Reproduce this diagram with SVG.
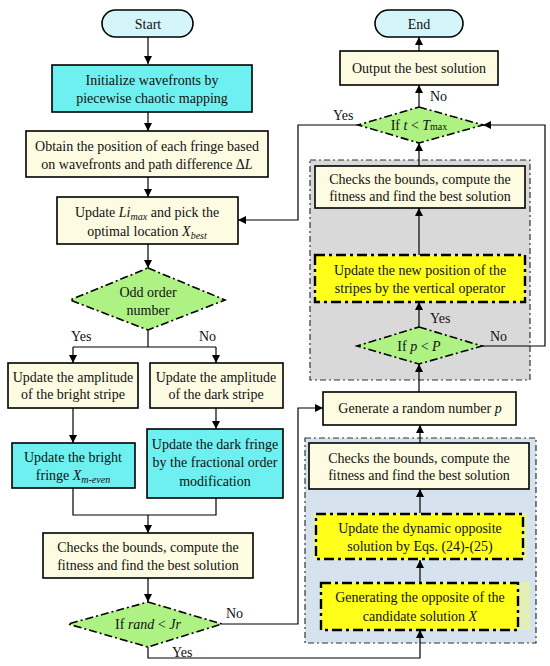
<svg xmlns="http://www.w3.org/2000/svg" width="550" height="666" viewBox="0 0 550 666">
<defs>
<marker id="ah" viewBox="0 0 10 10" refX="10" refY="5" markerWidth="8" markerHeight="8" markerUnits="userSpaceOnUse" orient="auto">
<path d="M0,0 L10,5 L0,10 z" fill="#000"/>
</marker>
<style>
text{font-size:14px;fill:#111;text-anchor:middle}
.lab{text-anchor:start}
.box{fill:#fdfbe1;stroke:#000;stroke-width:1.6}
.cyan{fill:#6ff0f0;stroke:#000;stroke-width:1.6}
.term{fill:#d4f5fa;stroke:#000;stroke-width:1.6}
.dia{fill:#aef283;stroke:#000;stroke-width:1.6;stroke-dasharray:8 3 2 3}
.yel{fill:#ffff1a;stroke:#000;stroke-width:2.4;stroke-dasharray:10 4 3 4}
.back{fill:#e3efb4;stroke:none}
.region{stroke:#333;stroke-width:1.2;stroke-dasharray:6 3 2 3}
.con{fill:none;stroke:#000;stroke-width:1.2}
.arr{marker-end:url(#ah)}
.sub{font-size:10px}
</style>
</defs>
<g font-family="'Liberation Serif', 'DejaVu Serif', serif">
<g id="regions">
<rect id="grayRegion" class="region" x="310" y="160" width="220" height="220" fill="#d9d9d9"/>
<rect id="blueRegion" class="region" x="305" y="438" width="231" height="205" fill="#d6e3ee"/>
</g>

<g id="connectors">
<path class="con arr" d="M148,37 V64"/>
<path class="con arr" d="M148,112 V131"/>
<path class="con arr" d="M148,177 V197"/>
<path class="con arr" d="M148,244 V268"/>
<path class="con" d="M148,330 V347 M73,347 H216"/>
<path class="con arr" d="M73,347 V363"/>
<path class="con arr" d="M216,347 V363"/>
<path class="con arr" d="M73,408 V443"/>
<path class="con arr" d="M216,408 V429"/>
<path class="con" d="M73,488 V515 H216 V498"/>
<path class="con arr" d="M148,515 V533"/>
<path class="con arr" d="M148,578 V602"/>
<path class="con arr" d="M222,624 H298 V408 H323"/>
<path class="con arr" d="M148,647 V658 H420 V630"/>
<path class="con arr" d="M420,583 V560"/>
<path class="con arr" d="M420,513 V489"/>
<path class="con arr" d="M420,443 V425"/>
<path class="con arr" d="M419,392 V364"/>
<path class="con arr" d="M419,327 V302"/>
<path class="con arr" d="M419,255 V208"/>
<path class="con arr" d="M419,166 V143"/>
<path class="con arr" d="M419,107 V85"/>
<path class="con arr" d="M419,51 V37"/>
<path class="con arr" d="M482,346 H545 V125 H483"/>
<path class="con arr" d="M358,125 H298 V220 H238"/>
<text class="lab" x="333" y="120">Yes</text>
<text class="lab" x="430" y="101">No</text>
<text class="lab" x="430" y="323">Yes</text>
<text class="lab" x="490" y="341">No</text>
<text class="lab" x="71" y="341">Yes</text>
<text class="lab" x="199" y="341">No</text>
<text class="lab" x="226" y="618">No</text>
<text class="lab" x="172" y="657">Yes</text>
</g>

<g id="start">
<rect class="term" x="102" y="10" width="91" height="27" rx="13.5"/>
<text x="148" y="28.5">Start</text>
</g>
<g id="init">
<rect class="cyan" x="52" y="65" width="200" height="47"/>
<text x="152" y="85">Initialize wavefronts by</text>
<text x="152" y="103">piecewise chaotic mapping</text>
</g>
<g id="obtain">
<rect class="box" x="26" y="131" width="242" height="46"/>
<text x="147" y="151">Obtain the position of each fringe based</text>
<text x="147" y="169">on wavefronts and path difference Δ<tspan font-style="italic">L</tspan></text>
</g>
<g id="updateLi">
<rect class="box" x="57" y="197" width="181" height="47"/>
<text x="147" y="217">Update <tspan font-style="italic">Li</tspan><tspan class="sub" font-style="italic" dy="3">max</tspan><tspan dy="-3">  and pick the</tspan></text>
<text x="147" y="236">optimal location <tspan font-style="italic">X</tspan><tspan class="sub" font-style="italic" dy="3">best</tspan></text>
</g>
<g id="oddOrder">
<polygon class="dia" points="148,268 225,300 148,330 70,300"/>
<text x="148" y="297">Odd order</text>
<text x="148" y="315">number</text>
</g>
<g id="brightStripe">
<rect class="box" x="8" y="363" width="130" height="45"/>
<text x="73" y="382">Update the amplitude</text>
<text x="73" y="399">of the bright stripe</text>
</g>
<g id="darkStripe">
<rect class="box" x="150" y="363" width="133" height="45"/>
<text x="216" y="382">Update the amplitude</text>
<text x="216" y="399">of the dark stripe</text>
</g>
<g id="brightFringe">
<rect class="cyan" x="12" y="443" width="123" height="45"/>
<text x="73" y="462">Update the bright</text>
<text x="73" y="480">fringe <tspan font-style="italic">X</tspan><tspan class="sub" font-style="italic" dy="3">m-even</tspan></text>
</g>
<g id="darkFringe">
<rect class="cyan" x="147" y="429" width="136" height="69"/>
<text x="215" y="449">Update the dark fringe</text>
<text x="215" y="467">by the fractional order</text>
<text x="215" y="486">modification</text>
</g>
<g id="checksLeft">
<rect class="box" x="43" y="533" width="210" height="45"/>
<text x="148" y="552">Checks the bounds, compute the</text>
<text x="148" y="570">fitness and find the best solution</text>
</g>
<g id="randJr">
<polygon class="dia" points="148,602 222,624 148,647 68,624"/>
<text x="148" y="629">If <tspan font-style="italic">rand</tspan> &lt; <tspan font-style="italic">Jr</tspan></text>
</g>
<g id="end">
<rect class="term" x="375" y="10" width="88" height="27" rx="13.5"/>
<text x="419" y="28.5">End</text>
</g>
<g id="output">
<rect class="box" x="340" y="51" width="158" height="34"/>
<text x="419" y="73">Output the best solution</text>
</g>
<g id="tTmax">
<polygon class="dia" points="419,107 483,125 419,143 358,125"/>
<text x="419" y="130">If <tspan font-style="italic">t</tspan> &lt; <tspan font-style="italic">T</tspan><tspan class="sub">max</tspan></text>
</g>
<g id="checksTop">
<rect class="box" x="315" y="166" width="210" height="42"/>
<text x="420" y="184">Checks the bounds, compute the</text>
<text x="420" y="201">fitness and find the best solution</text>
</g>
<g id="vertical">
<rect class="yel" x="315" y="255" width="210" height="47"/>
<text x="420" y="275">Update the new position of the</text>
<text x="420" y="293">stripes by the vertical operator</text>
</g>
<g id="pP">
<polygon class="dia" points="419,327 482,346 419,364 357,346"/>
<text x="419" y="351">If <tspan font-style="italic">p</tspan> &lt; <tspan font-style="italic">P</tspan></text>
</g>
<g id="random">
<rect class="box" x="323" y="392" width="193" height="33"/>
<text x="420" y="413">Generate a random number <tspan font-style="italic">p</tspan></text>
</g>
<g id="checksBottom">
<rect class="box" x="309" y="443" width="220" height="46"/>
<text x="419" y="463">Checks the bounds, compute the</text>
<text x="419" y="480">fitness and find the best solution</text>
</g>
<g id="dynamic">
<rect class="back" x="313" y="513" width="214" height="47"/>
<rect class="yel" x="316" y="514" width="207" height="45"/>
<text x="420" y="533">Update the dynamic opposite</text>
<text x="420" y="551">solution by Eqs. (24)-(25)</text>
</g>
<g id="opposite">
<rect class="back" x="321" y="582" width="209" height="48"/>
<rect class="yel" x="321" y="583" width="197" height="47"/>
<text x="420" y="602">Generating the opposite of the</text>
<text x="420" y="621">candidate solution <tspan font-style="italic">X</tspan></text>
</g>
</g>
</svg>
